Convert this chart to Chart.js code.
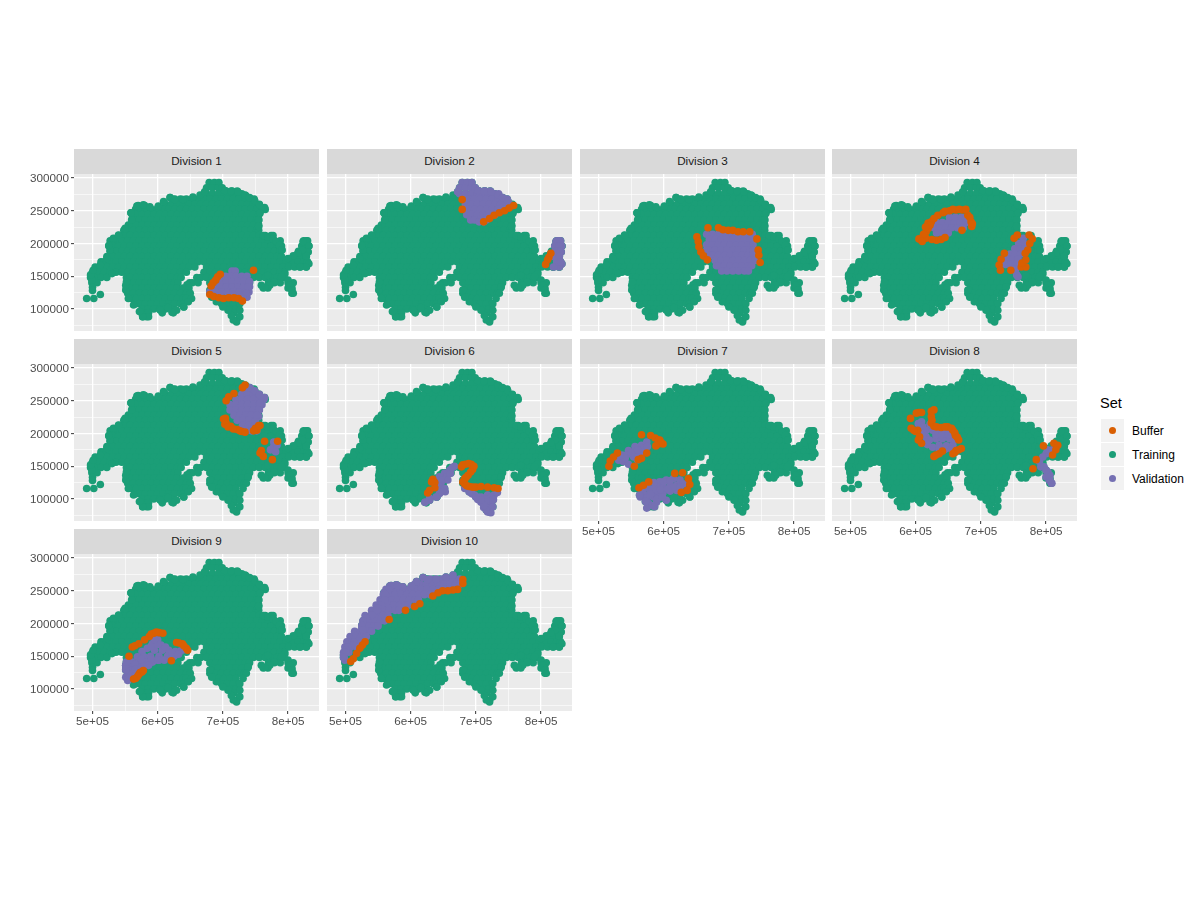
<!DOCTYPE html>
<html><head><meta charset="utf-8">
<style>
html,body{margin:0;padding:0;background:#fff;width:1200px;height:900px;overflow:hidden}
body{position:relative;font-family:"Liberation Sans",Arial,sans-serif}
canvas{position:absolute}
.strip{position:absolute;background:#D9D9D9;color:#1A1A1A;font-size:11.7px;text-align:center;line-height:24px}
.key{position:absolute;left:1101px;width:23px;height:23px;background:#F2F2F2}
.dot{position:absolute;left:8px;top:8px;width:7px;height:7px;border-radius:50%}
.lab{position:absolute;left:1132px;font-size:12px;color:#000;line-height:14px}
.ttl{position:absolute;left:1100px;top:395px;font-size:14.6px;color:#000;line-height:17px}
</style>
<script src="https://cdn.jsdelivr.net/npm/chart.js@4"></script>
</head><body>
<script>
const divisions=["Division 1","Division 2","Division 3","Division 4","Division 5","Division 6","Division 7","Division 8","Division 9","Division 10"];
const setNames=["Buffer","Training","Validation"];
const setColours=["#D95F02","#1B9E77","#7570B3"];
const xGridValues=[500000,550000,600000,650000,700000,750000,800000];
const yGridValues=[75000,100000,125000,150000,175000,200000,225000,250000,275000,300000];
const xTickValues=[500000,600000,700000,800000];
const xTickLabels=["5e+05","6e+05","7e+05","8e+05"];
const yTickValues=[100000,150000,200000,250000,300000];
const yTickLabels=["100000","150000","200000","250000","300000"];

// km coordinates: rows are [y,[x,...]], pairs are [x,y]
const R=l=>l.flatMap(([y,xs])=>xs.map(x=>[x,y]));
const trainingInterior=R([
[293,[679,687,694]],
[285,[675,684,693,699]],
[280,[705,714,722]],
[276,[675,684,693,702,711,720,729]],
[273,[735]],
[270,[619]],
[268,[626,635,644,653,662,671,680,689,698,707,716,725,734,743,748]],
[260,[612,621,630,639,648,657,666,675,684,693,702,711,720,729,738,747,756]],
[258,[570,580]],
[256,[601]],
[252,[566,572,581,590,599,608,617,626,635,644,653,662,671,680,689,698,707,716,725,734,743,752,761,765]],
[247,[559]],
[244,[561,567,576,585,594,603,612,621,630,639,648,657,666,675,684,693,702,711,720,729,738,747,755]],
[236,[563,572,581,590,599,608,617,626,635,644,653,662,671,680,689,698,707,716,725,734,743,752,755]],
[228,[555,561,567,576,585,594,603,612,621,630,639,648,657,666,675,684,693,702,711,720,729,738,747,755]],
[220,[548,554,563,572,581,590,599,608,617,626,635,644,653,662,671,680,689,698,707,716,725,734,743,752,755]],
[212,[540,549,558,567,576,585,594,603,612,621,630,639,648,657,666,675,684,693,702,711,720,729,738,747,756,765,774,777]],
[204,[527,536,545,554,563,572,581,590,599,608,617,626,635,644,653,662,671,680,689,698,707,716,725,734,743,752,761,770,779,788,824,830]],
[196,[525,531,540,549,558,567,576,585,594,603,612,621,630,639,648,657,666,675,684,693,702,711,720,729,738,747,756,765,774,783,790,821,828,832]],
[188,[527,536,545,554,563,572,581,590,599,608,617,626,635,644,653,662,671,680,689,698,707,716,725,734,743,752,761,770,779,788,816,824,830]],
[180,[522,531,540,549,558,567,576,585,594,603,612,621,630,639,648,657,666,675,684,693,702,711,720,729,738,747,756,765,774,783,790,810,819,828]],
[172,[513,518,527,536,545,554,563,572,581,590,599,608,617,626,635,644,653,662,671,680,689,698,707,716,725,734,743,752,761,770,779,788,797,806,815,824,830]],
[164,[504,513,522,531,540,549,558,567,576,585,594,603,612,621,630,639,648,657,675,684,693,702,711,720,729,738,747,756,765,774,783,792,801,810,819,828]],
[156,[500,509,518,527,536,545,554,563,572,581,590,599,608,617,626,635,644,671,680,689,698,707,716,725,734,743,752,761,770,779,788,795]],
[148,[497,504,513,522,552,558,567,576,585,594,603,612,621,630,636,660,666,675,684,693,702,711,720,729,738,747,756,765,774,783,792]],
[140,[499,507,554,563,572,581,590,599,608,617,626,631,649,653,662,680,689,698,707,716,725,734,741,770,779,788,800,808]],
[137,[645]],
[133,[500]],
[132,[552,558,567,576,585,594,603,612,621,630,639,648,684,693,702,711,720,729,738,762,769,800,806]],
[128,[500]],
[124,[554,563,572,581,590,599,608,617,626,635,644,650,680,689,698,707,716,725,733,806]],
[122,[512]],
[116,[491,502,560,567,576,585,594,603,612,621,630,639,644,693,702,711,720]],
[108,[566,572,581,590,599,608,617,626,635,639,698,707,716,725]],
[103,[640]],
[100,[576,585,594,603,612,621,711,720]],
[94,[575,586,607,624,717]],
[88,[577,583,725]],
[82,[721]]
]);
const trainingContour=[[703,281],[713,280],[723,279],[734,274],[741,270],[749,265],[756,259],[764,255],[757,246],[755,236],[755,226],[762,212],[769,210],[777,207],[782,203],[787,197],[791,190],[828,204],[823,203],[832,196],[831,187],[828,181],[822,190],[815,185],[808,181],[800,177],[832,169],[828,164],[818,164],[800,144],[802,136],[806,129],[808,124],[795,153],[790,149],[779,141],[772,136],[764,133],[759,136],[769,151],[739,134],[736,124],[731,116],[726,108],[726,98],[726,88],[721,80],[716,83],[713,90],[708,98],[700,103],[690,111],[683,118],[680,129],[652,116],[647,111],[640,103],[629,98],[622,95],[616,102],[604,98],[586,88],[577,88],[572,96],[563,106],[555,116],[551,129],[551,136],[552,141],[530,154],[499,144],[497,152],[501,159],[512,167],[522,177],[527,190],[525,197],[532,208],[540,213],[550,223],[560,236],[559,247],[568,257],[578,259],[588,256],[601,257],[609,264],[619,270],[626,267],[639,267],[654,271],[665,274],[672,279]];
const validation1=R([[158,[714,719]],[150,[704,712,720,729,737]],[142,[696,705,714,723,732,741]],[134,[687,696,705,714,723,732,741]],[126,[680,689,698,707,716,725,734,740]],[118,[730,737]]]).concat([[739,134],[736,124],[731,116]]);
const buffer1=[[747,159],[696,153],[692,149],[689,144],[685,140],[682,135],[680,122],[686,119],[694,117],[701,116],[709,117],[717,117],[724,116],[730,112]];
const validation2=R([[293,[679,687,694]],[285,[675,684,693,699]],[280,[705,714,722]],[276,[675,684,693,702,711,720,729,735]],[268,[689,698,707,716,725,734,743,748]],[260,[684,693,702,711,720,729,738,747,752]],[252,[689,698,707,716,725,734,743]],[244,[686,693,702,711,720,729]],[236,[692,698,707,716]],[233,[705,712]]]).concat([[703,281],[713,280],[723,279],[734,274],[741,270],[749,265],[672,279],[828,204],[823,203],[824,195],[830,197],[832,196],[822,187],[828,185],[831,187],[828,181],[822,190],[820,180],[825,175],[830,167],[832,169],[828,164],[823,165],[824,204],[830,204],[821,196],[828,196],[824,188],[830,188],[819,180],[828,180],[824,172],[830,172],[819,164]]);
const buffer2=[[679,267],[679,252],[712,233],[721,238],[728,243],[736,247],[744,250],[751,254],[758,258],[815,185],[812,179],[810,175],[807,168]];
const validation3=R([[214,[666,675,684,693,702,711,720,729,736]],[206,[670,679,688,697,706,715,724,733]],[198,[666,675,684,693,702,711,720,729,737]],[190,[666,670,679,688,697,706,715,724,733,737]],[182,[672,675,684,693,702,711,720,729,737]],[174,[679,688,697,706,715,724,733,740]],[166,[681,684,693,702,711,720,729,735]],[158,[689,697,706,715,724,730]]]);
const buffer3=[[668,224],[684,224],[691,221],[699,220],[706,220],[714,218],[722,218],[732,218],[743,207],[651,210],[653,203],[654,195],[657,187],[661,181],[667,175],[745,190],[746,182],[748,171]];
const validation4=R([[240,[652,661,670,678]],[232,[632,641,650,659,668,677]],[224,[628,637,646,655,664,673]],[216,[632,641,650]],[208,[765]],[200,[758,766]],[192,[752,760,767]],[184,[745,753,761]],[176,[741,749,757]],[168,[738,746,754]],[160,[747,753]],[152,[755]],[149,[757]]]);
const buffer4=[[619,231],[624,233],[634,243],[642,247],[652,250],[662,251],[672,251],[680,243],[685,233],[686,226],[616,218],[609,205],[616,208],[632,205],[639,206],[645,209],[671,220],[619,223],[628,238],[645,249],[657,252],[667,252],[677,252],[683,240],[687,230],[622,228],[615,225],[612,214],[605,207],[610,203],[625,206],[751,208],[756,213],[774,213],[779,207],[775,200],[772,190],[768,185],[736,185],[731,176],[728,167],[730,159],[746,159],[762,164],[769,164],[763,170],[769,175]];
const validation5=R([[268,[736,743]],[260,[729,738,747,756]],[252,[720,729,738,747,756,763]],[244,[711,720,729,738,747,756,760]],[236,[711,720,729,738,747,756]],[228,[717,726,735,744,753]],[220,[722,731,740,750]],[212,[730,739,748,755]],[204,[735,744,752]]]).concat([[741,270],[749,265],[756,259],[764,255],[757,246],[755,236],[755,226],[752,228],[778,180],[783,182],[773,175],[781,172],[778,187]]);
const buffer5=[[734,274],[730,270],[717,261],[709,256],[705,250],[704,223],[705,216],[712,211],[722,206],[729,203],[752,205],[757,212],[764,188],[784,188],[759,174],[762,165],[776,160],[757,170],[701,222],[703,214],[708,210],[716,207],[726,204],[734,202],[750,208],[755,212],[747,204]];
const validation6=[[667,150],[660,144],[652,139],[644,134],[655,134],[661,139],[647,126],[651,116],[653,111],[644,108],[639,103],[629,101],[622,95],[683,116],[690,111],[698,106],[708,103],[718,106],[728,106],[723,98],[708,95],[716,93],[723,88],[718,80],[723,79],[664,148],[648,129],[657,129],[643,120],[694,108],[703,103],[713,100],[723,103],[733,110],[727,99],[716,99],[703,99],[712,87],[719,86],[726,98],[726,88],[721,80],[716,83],[713,90],[708,98],[700,103],[690,111],[683,118],[629,98],[622,95],[640,103],[652,116],[647,111]];
const buffer6=[[634,130],[637,125],[637,117],[629,113],[626,109],[678,149],[684,153],[693,153],[695,145],[688,136],[683,131],[683,123],[690,119],[700,118],[708,119],[718,118],[728,117],[734,116],[632,126],[680,152],[689,154],[697,150],[692,141],[685,133],[680,126],[686,120],[695,118]];
const validation7=[[574,187],[566,182],[556,180],[546,174],[556,172],[566,174],[536,167],[543,167],[554,164],[531,159],[538,157],[546,153],[564,167],[569,177],[560,175],[550,170],[541,162],[533,166],[560,160],[575,180],[625,129],[615,131],[604,129],[594,126],[630,123],[620,121],[610,120],[599,118],[589,118],[620,113],[610,112],[599,110],[589,110],[579,113],[569,108],[564,103],[574,101],[584,103],[594,103],[604,98],[589,95],[577,93],[574,86],[582,90],[600,126],[610,128],[585,125],[575,118],[583,115],[595,114],[606,115],[617,118],[625,118],[568,115],[580,107],[590,100],[598,103],[572,96],[563,106],[586,88]];
const buffer7=[[566,198],[580,197],[587,193],[594,190],[599,184],[592,184],[574,170],[566,162],[561,160],[555,150],[529,170],[523,164],[518,158],[516,150],[562,117],[569,121],[577,126],[617,139],[629,140],[638,131],[640,122],[636,113],[627,110],[592,190],[596,186],[588,181]];
const validation8=[[604,215],[611,210],[609,218],[616,205],[616,195],[626,205],[636,203],[647,203],[621,190],[631,192],[641,192],[652,192],[626,179],[636,182],[647,181],[657,182],[660,190],[616,187],[622,214],[631,198],[640,198],[650,198],[612,200],[618,183],[636,176],[645,176],[655,176],[608,212],[815,180],[810,175],[800,169],[795,164],[790,157],[792,149],[803,141],[800,134],[806,136],[805,128],[809,124],[797,149],[802,175],[808,124],[806,129],[802,136],[800,144]];
const buffer8=[[628,236],[624,226],[624,216],[628,211],[639,209],[649,210],[657,205],[661,197],[666,190],[605,232],[601,231],[609,232],[592,223],[593,208],[600,203],[606,195],[609,185],[628,165],[636,169],[641,173],[657,169],[662,174],[670,177],[796,181],[812,185],[818,182],[815,175],[810,167],[785,160],[780,146],[624,234],[625,220],[632,210],[645,210],[655,208],[660,201],[664,194],[603,205],[597,205],[604,190],[631,167],[660,171],[666,175]];
const validation9=[[600,175],[592,169],[605,167],[584,162],[595,159],[607,159],[617,159],[576,157],[627,157],[635,158],[569,149],[579,149],[589,150],[602,150],[615,150],[625,150],[561,141],[571,141],[582,141],[592,141],[602,144],[610,144],[551,136],[559,134],[569,134],[579,136],[554,126],[563,126],[554,113],[559,118],[551,118],[590,165],[600,168],[595,175],[612,164],[622,155],[632,153],[640,160],[600,144],[590,146],[575,145],[565,138],[557,128],[551,130],[558,122],[566,130],[586,136],[575,130],[555,116],[551,129],[551,136],[552,141]];
const buffer9=[[561,164],[571,169],[587,180],[594,185],[602,186],[608,185],[629,171],[638,169],[644,162],[556,150],[621,143],[576,126],[571,122],[566,116],[565,166],[580,175],[590,184],[598,187],[633,170],[640,166],[646,159],[573,125],[569,119],[563,115],[578,128]];
const validation10=R([[268,[630,639,648,657,666,675]],[260,[606,615,624,633,642,651,660,669,675]],[252,[562,571,580,589,598,607,616,625,634,643,652,660]],[244,[558,567,576,585,594,603,612,621,630]],[236,[553,562,571,580,589,598,607,612]],[228,[547,556,565,574,583,592,596]],[220,[540,549,558,567,576,582]],[212,[530,539,548,557,565]],[204,[527,536,545,554,560]],[196,[525,534,543,550]],[188,[514,523,532,540]],[180,[507,516,525,532]],[172,[502,510,519,527]],[164,[499,508,517]],[156,[497,505]],[148,[498]]]).concat([[654,271],[665,274],[619,270],[626,267],[639,267],[609,264],[601,257],[588,256],[578,259],[568,257],[570,258],[580,258],[566,252],[559,247],[561,244],[560,236],[555,228],[550,223],[548,220],[540,213],[532,208],[527,204],[525,197],[527,190],[522,177],[513,172],[512,167],[504,164],[501,159],[497,152],[499,144],[500,156],[497,148]]);
const buffer10=[[680,267],[680,261],[672,252],[665,251],[657,250],[649,250],[642,247],[634,242],[614,230],[606,226],[592,220],[567,206],[530,172],[526,167],[522,162],[517,154],[512,146],[508,142]];
const validationSets=[validation1,validation2,validation3,validation4,validation5,validation6,validation7,validation8,validation9,validation10];
const bufferSets=[buffer1,buffer2,buffer3,buffer4,buffer5,buffer6,buffer7,buffer8,buffer9,buffer10];
const training=trainingInterior.concat(trainingContour);

const panelLefts=[74,327,580,832];
const panelWidth=245, panelHeight=157, stripHeight=25;
const rowTops=[174,364,554];
const xMin=471600,xMax=847500,yMin=66300,yMax=306100;
const pts=a=>a.map(([x,y])=>({x:x*1000,y:y*1000}));
const panelBg={id:'panelBg',beforeDraw(c){const a=c.chartArea;c.ctx.save();c.ctx.fillStyle='#EBEBEB';c.ctx.fillRect(a.left,a.top,a.width,a.height);c.ctx.restore();}};

divisions.forEach((name,i)=>{
  const col=i%4,row=Math.floor(i/4);
  const px=panelLefts[col],py=rowTops[row];
  const strip=document.createElement('div');
  strip.className='strip';strip.textContent=name;
  strip.style.cssText=`left:${px}px;top:${py-stripHeight}px;width:${panelWidth}px;height:${stripHeight}px`;
  document.body.appendChild(strip);
  const cv=document.createElement('canvas');
  const mL=60,mB=24,mT=10;
  cv.width=panelWidth+mL+4;cv.height=panelHeight+mB+mT;
  cv.style.cssText=`left:${px-mL}px;top:${py-mT}px;width:${cv.width}px;height:${cv.height}px`;
  document.body.appendChild(cv);
  const showX=i>=6, showY=col===0;
  const ds=(label,data,colour)=>({label,data:pts(data),backgroundColor:colour,borderWidth:0,pointRadius:3.8,pointHoverRadius:3.8,pointBorderWidth:0});
  new Chart(cv,{type:'scatter',
    data:{datasets:[ds(setNames[0],bufferSets[i],setColours[0]),ds(setNames[2],validationSets[i],setColours[2]),ds(setNames[1],training,setColours[1])]},
    plugins:[panelBg],
    options:{responsive:false,animation:false,devicePixelRatio:1,
      layout:{padding:{left:0,right:4,top:mT,bottom:0}},
      plugins:{legend:{display:false},tooltip:{enabled:false},title:{display:false}},
      scales:{
        x:{type:'linear',min:xMin,max:xMax,border:{display:false},
          afterBuildTicks:s=>{s.ticks=xGridValues.map(v=>({value:v}));},
          afterFit:s=>{s.height=mB;s.paddingLeft=s.paddingRight=0;},
          grid:{color:'#fff',lineWidth:c=>xTickValues.includes(c.tick.value)?1.3:0.6,drawTicks:showX,tickLength:3,tickWidth:1,
            tickColor:c=>xTickValues.includes(c.tick.value)?'#333333':'rgba(0,0,0,0)'},
          ticks:{display:showX,autoSkip:false,maxRotation:0,padding:1,color:'#4D4D4D',font:{family:'"Liberation Sans"',size:11.7},
            callback:v=>{const k=xTickValues.indexOf(v);return k<0?'':xTickLabels[k];}}},
        y:{type:'linear',min:yMin,max:yMax,border:{display:false},
          afterBuildTicks:s=>{s.ticks=yGridValues.map(v=>({value:v}));},
          afterFit:s=>{s.width=mL;s.paddingTop=s.paddingBottom=0;},
          grid:{color:'#fff',lineWidth:c=>yTickValues.includes(c.tick.value)?1.3:0.6,drawTicks:showY,tickLength:3,tickWidth:1,
            tickColor:c=>yTickValues.includes(c.tick.value)?'#333333':'rgba(0,0,0,0)'},
          ticks:{display:showY,autoSkip:false,padding:2,labelOffset:1,color:'#4D4D4D',font:{family:'"Liberation Sans"',size:11.7},
            callback:v=>{const k=yTickValues.indexOf(v);return k<0?'':yTickLabels[k];}}}
      }}});
});

const ttl=document.createElement('div');ttl.className='ttl';ttl.textContent='Set';document.body.appendChild(ttl);
setNames.forEach((n,i)=>{
  const k=document.createElement('div');k.className='key';k.style.top=(419+i*24)+'px';
  const d=document.createElement('div');d.className='dot';d.style.background=setColours[i];k.appendChild(d);
  document.body.appendChild(k);
  const l=document.createElement('div');l.className='lab';l.textContent=n;l.style.top=(424+i*24)+'px';document.body.appendChild(l);
});
</script>
</body></html>
